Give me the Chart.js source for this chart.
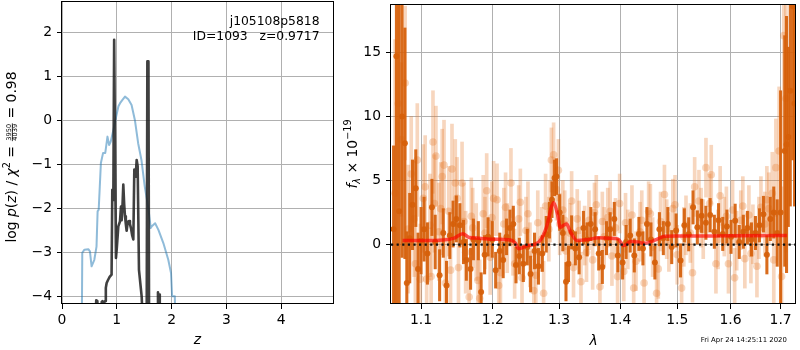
<!DOCTYPE html>
<html>
<head>
<meta charset="utf-8">
<script src="https://cdn.jsdelivr.net/npm/chart.js@4.4.0/dist/chart.umd.min.js"></script>
<style>
html,body{margin:0;padding:0;background:#fff;}
#wrap{position:relative;width:800px;height:350px;}
canvas{position:absolute;left:0;top:0;}
</style>
</head>
<body>
<div id="wrap">
<canvas id="cL" width="800" height="350"></canvas>
<canvas id="cR" width="800" height="350"></canvas>
</div>
<script>
// ---------- Left panel data: log p(z) ----------
const zTicks = [0, 1, 2, 3, 4];
const zTickLabels = ['0', '1', '2', '3', '4'];
const logpTicks = [-4, -3, -2, -1, 0, 1, 2];
const logpTickLabels = ['\u22124', '\u22123', '\u22122', '\u22121', '0', '1', '2'];

const zDark = [0.60,0.625,0.645,0.665,0.715,0.725,0.74,0.76,0.785,0.80,0.815,0.84,0.87,0.905,0.918,0.937,0.952,0.962,0.985,1.0,1.028,1.058,1.077,1.089,1.105,1.119,1.135,1.15,1.165,1.18,1.20,1.223,1.24,1.259,1.28,1.302,1.32,1.335,1.345,1.363,1.381,1.405,1.454,1.49,1.545,1.558,1.578,1.59,1.74,1.752,1.762,1.775,1.785,1.80];
const logpDark = [-5,-4.08,-4.1,-5,-5,-4.12,-4.1,-4.15,-4.1,-3.8,-3.69,-3.62,-3.55,-3.5,-1.57,-1.8,1.84,1.84,-3.12,-2.9,-2.4,-2.29,-1.95,-2.26,-1.9,-1.45,-1.9,-2.17,-2.35,-2.5,-2.3,-2.28,-2.35,-2.44,-2.6,-2.7,-1.11,-1.2,-1.27,-0.89,-1.03,-3.39,-3.99,-5,-5,1.35,1.35,-5,-5,-3.9,-4.3,-3.95,-4.3,-5];

const zBlue = [0.36,0.37,0.41,0.48,0.51,0.54,0.59,0.63,0.65,0.67,0.71,0.75,0.79,0.83,0.86,0.89,0.94,0.99,1.03,1.06,1.10,1.15,1.21,1.27,1.33,1.39,1.45,1.51,1.58,1.62,1.64,1.70,1.76,1.85,1.94,1.99,2.01,2.06,2.07];
const logpBlue = [-5,-3.0,-2.93,-2.92,-2.97,-3.31,-3.16,-2.86,-2.06,-2.02,-0.96,-0.73,-0.73,-0.36,-0.55,-0.47,-0.2,0.1,0.33,0.40,0.47,0.55,0.49,0.36,0.02,-0.51,-0.89,-1.49,-2.02,-2.44,-2.40,-2.33,-2.48,-2.78,-3.16,-3.46,-3.99,-3.99,-5];

// ---------- Right panel data: spectrum ----------
const lamTicks = [1.1, 1.2, 1.3, 1.4, 1.5, 1.6, 1.7];
const lamTickLabels = ['1.1', '1.2', '1.3', '1.4', '1.5', '1.6', '1.7'];
const fluxTicks = [0, 5, 10, 15];
const fluxTickLabels = ['0', '5', '10', '15'];

const darkLam = [1.0640,1.0677,1.0712,1.0750,1.0787,1.0812,1.0850,1.0887,1.0930,1.0960,1.1000,1.1040,1.1085,1.1146,1.1190,1.1250,1.1300,1.1345,1.1390,1.1435,1.1480,1.1530,1.1580,1.1620,1.1680,1.1720,1.1790,1.1830,1.1880,1.1930,1.1990,1.2040,1.2100,1.2150,1.2200,1.2250,1.2300,1.2340,1.2390,1.2450,1.2510,1.2560,1.2620,1.2680,1.2740,1.2800,1.2850,1.2890,1.2930,1.2960,1.3010,1.3060,1.3110,1.3150,1.3200,1.3260,1.3320,1.3390,1.3450,1.3510,1.3580,1.3640,1.3700,1.3770,1.3830,1.3900,1.3960,1.4040,1.4100,1.4170,1.4240,1.4320,1.4390,1.4460,1.4530,1.4600,1.4680,1.4750,1.4830,1.4900,1.4980,1.5060,1.5130,1.5210,1.5290,1.5370,1.5450,1.5530,1.5610,1.5690,1.5770,1.5850,1.5930,1.6010,1.6090,1.6170,1.6250,1.6330,1.6410,1.6490,1.6570,1.6650,1.6720,1.6790,1.6860,1.6930,1.7000,1.7086,1.7123,1.7160,1.7200,1.7253,1.7290];
const darkFlux = [1.2,14.7,2.6,10.0,7.9,-3.0,0.5,3.1,4.4,-1.9,0.3,1.2,-0.7,2.9,0.2,-2.4,0.9,-3.2,0.7,1.6,2.0,1.5,0.2,-1.2,-1.9,0.4,0.3,-3.7,-0.8,0.6,0.4,-2.0,-0.5,-1.2,0.6,1.3,1.6,-1.6,-0.9,-1.5,-0.2,-2.3,-0.5,-1.7,-0.7,0.8,1.9,3.5,5.2,5.3,2.5,0.9,-2.9,-1.5,0.95,-0.3,-1.0,1.3,0.4,1.6,1.2,-0.7,-1.75,0.5,1.2,2.0,-0.85,-1.4,0.2,0.7,-0.85,0.83,-0.3,1.6,0.4,-1.4,1.2,0.5,1.6,-0.2,1.1,-1.24,1.5,0.8,2.9,1.34,2.24,1.7,2.3,1.0,1.9,0.83,1.4,0.6,1.86,0.2,1.0,1.3,0.4,0.9,1.5,2.37,-0.8,2.0,2.5,0.9,2.5,7.3,7.8,8.4,12.0,18.6,11.0];
const darkErr = [6.5,20,17,11,9,4,3.5,3.5,3,2.8,2.6,2.5,2.4,2.2,2.1,2.0,1.9,1.9,1.8,1.8,1.8,1.7,1.7,1.6,1.6,1.6,1.5,1.5,1.5,1.5,1.4,1.4,1.4,1.4,1.4,1.4,1.4,1.4,1.4,1.4,1.4,1.4,1.4,1.4,1.4,1.4,1.4,1.4,1.4,1.4,1.4,1.4,1.5,1.4,1.3,1.3,1.3,1.3,1.3,1.3,1.3,1.3,1.3,1.3,1.3,1.3,1.3,1.3,1.3,1.3,1.3,1.3,1.3,1.3,1.3,1.3,1.3,1.3,1.3,1.3,1.3,1.3,1.3,1.3,1.3,1.3,1.3,1.3,1.3,1.3,1.3,1.3,1.3,1.3,1.3,1.3,1.3,1.3,1.3,1.3,1.3,1.4,1.5,1.7,2.0,2.6,9.5,9,10,7,9,12,8];

const lightLam = [1.0660,1.0700,1.0740,1.0790,1.0830,1.0870,1.0910,1.0950,1.0990,1.1030,1.1075,1.1120,1.1160,1.1200,1.1240,1.1285,1.1330,1.1375,1.1420,1.1465,1.1510,1.1560,1.1610,1.1660,1.1710,1.1760,1.1810,1.1860,1.1910,1.1960,1.2010,1.2060,1.2110,1.2160,1.2210,1.2265,1.2320,1.2380,1.2430,1.2490,1.2550,1.2610,1.2670,1.2730,1.2790,1.2840,1.2880,1.2915,1.2960,1.3010,1.3060,1.3110,1.3170,1.3230,1.3290,1.3350,1.3410,1.3480,1.3540,1.3600,1.3660,1.3730,1.3790,1.3860,1.3920,1.3990,1.4060,1.4130,1.4200,1.4270,1.4340,1.4410,1.4490,1.4560,1.4630,1.4700,1.4770,1.4850,1.4920,1.5000,1.5080,1.5160,1.5240,1.5320,1.5400,1.5480,1.5531,1.5631,1.5720,1.5800,1.5880,1.5960,1.6040,1.6120,1.6200,1.6280,1.6360,1.6440,1.6520,1.6600,1.6680,1.6760,1.6830,1.6903,1.6970,1.7020,1.7066,1.7110];
const lightFlux = [4.0,11.0,8.2,12.6,1.2,5.5,2.0,6.6,-2.7,3.6,-2.7,1.5,8.0,6.9,1.0,5.3,-3.0,2.6,5.9,4.8,-1.8,4.8,-0.6,-4.1,1.3,0.2,-4.2,2.4,4.2,-1.0,3.6,3.5,-2.2,1.6,0.5,4.8,-1.5,2.0,-2.6,1.1,-0.8,-3.6,1.7,0.4,3.0,1.2,6.6,7.0,4.3,1.6,2.7,-0.5,0.9,-1.8,2.0,-2.9,0.7,1.9,-1.2,3.1,-3.3,0.6,2.1,-0.9,1.3,3.2,-2.1,0.4,2.3,-1.3,1.0,-3.0,2.6,-0.2,-3.8,1.8,3.9,0.2,2.8,-0.8,-3.4,1.5,0.9,4.5,3.4,1.2,6.0,5.45,-1.5,3.8,1.4,-1.5,2.7,0.3,1.9,-1.1,2.3,0.8,-1.7,2.9,1.6,2.8,4.0,6.0,7.3,-2.5,16.3,11.4];
const lightErr = [12,8,6,6,5,4.5,4.5,4.4,4.3,4.2,4.1,4.0,4.0,3.9,3.8,3.7,3.6,3.5,3.5,3.4,3.3,3.2,3.2,3.1,3.1,3.0,3.0,3.0,2.9,2.9,2.9,2.8,2.8,2.8,2.7,2.7,2.7,2.6,2.6,2.6,2.5,2.5,2.5,2.5,2.5,2.5,2.5,2.5,2.4,2.4,2.3,2.3,2.3,2.3,2.3,2.3,2.3,2.3,2.3,2.3,2.3,2.3,2.3,2.3,2.3,2.3,2.3,2.3,2.3,2.3,2.3,2.3,2.3,2.3,2.3,2.3,2.3,2.3,2.3,2.3,2.3,2.3,2.3,2.3,2.4,2.3,2.3,2.3,2.3,2.3,2.3,2.3,2.3,2.3,2.3,2.3,2.3,2.3,2.4,2.4,2.5,2.8,3.2,3.8,5,7,9,12];

const light2Lam = [1.0925,1.1055,1.1135,1.1180,1.1265,1.1310,1.1400,1.1490,1.1585,1.1690,1.1785,1.1885,1.1985,1.2085,1.2185,1.2295,1.2405,1.2520,1.2640,1.2760,1.2860,1.2990,1.3090,1.3200,1.3320,1.3440,1.3570,1.3700,1.3830,1.3955,1.4090,1.4230,1.4370,1.4520,1.4660,1.4810,1.4960,1.5120,1.5280,1.5440,1.5600,1.5760,1.5920,1.6080,1.6240,1.6400,1.6560,1.6720,1.6860];
const light2Flux = [-1.5,4.5,-2.5,3.2,2.8,6.2,-2.0,3.6,1.8,2.2,-2.8,0.9,2.1,-3.2,2.9,0.2,3.3,2.4,-2.4,-3.8,2.6,5.8,1.9,3.4,1.1,-0.6,2.5,1.8,2.6,-2.5,1.7,-3.4,1.9,2.4,-1.9,1.2,3.1,0.6,-2.2,2.1,3.2,0.4,2.2,-2.6,3.0,-0.7,1.3,3.5,-1.2];
const light2Err = [4.5,4,3.8,3.8,3.6,3.5,3.4,3.2,3.0,3.0,3.0,2.8,2.8,2.7,2.7,2.6,2.6,2.5,2.5,2.5,2.4,2.4,2.3,2.3,2.3,2.3,2.3,2.3,2.3,2.3,2.3,2.3,2.3,2.3,2.3,2.3,2.3,2.3,2.3,2.3,2.3,2.3,2.3,2.3,2.3,2.3,2.4,2.6,3.5];

const modelLam = [1.0757,1.10,1.13,1.145,1.157,1.166,1.18,1.20,1.226,1.233,1.238,1.25,1.264,1.272,1.28,1.2917,1.297,1.302,1.307,1.312,1.318,1.3285,1.345,1.3636,1.38,1.396,1.406,1.418,1.43,1.441,1.455,1.465,1.477,1.50,1.60,1.713];
const modelFlux = [0.31,0.31,0.35,0.5,0.85,0.55,0.5,0.41,0.36,0.1,-0.33,-0.1,0.05,0.4,1.3,3.27,2.5,1.34,1.5,1.6,1.0,0.31,0.38,0.52,0.5,0.44,-0.08,0.23,0.2,0.1,0.25,0.44,0.64,0.66,0.68,0.7];

const zeroLam = [1.0607, 1.732];
const zeroFlux = [0, 0];

// ---------- helpers ----------
const FAM = '"DejaVu Sans"';
const F = '13.9px ' + FAM;
const FI = 'italic 13.9px ' + FAM;

function drawRich(ctx, x, y, parts, rot) {
  ctx.save();
  ctx.translate(x, y);
  if (rot) ctx.rotate(-Math.PI / 2);
  ctx.fillStyle = '#000';
  ctx.textBaseline = 'alphabetic';
  ctx.textAlign = 'left';
  let total = 0;
  parts.forEach(p => {
    ctx.font = p.f;
    p.w = p.frac ? Math.max(ctx.measureText(p.frac[0]).width, ctx.measureText(p.frac[1]).width) + 2
                 : ctx.measureText(p.t).width;
    total += p.w;
  });
  let cx = -total / 2;
  parts.forEach(p => {
    ctx.font = p.f;
    if (p.frac) {
      const w0 = ctx.measureText(p.frac[0]).width, w1 = ctx.measureText(p.frac[1]).width;
      ctx.fillText(p.frac[0], cx + (p.w - w0) / 2, p.dy[0]);
      ctx.fillText(p.frac[1], cx + (p.w - w1) / 2, p.dy[1]);
      ctx.fillRect(cx + 0.5, p.bar, p.w - 1, 0.8);
    } else {
      ctx.fillText(p.t, cx, p.dy || 0);
    }
    cx += p.w;
  });
  ctx.restore();
}

const framePlugin = {
  id: 'frame',
  afterDatasetsDraw(chart) {
    const { ctx, chartArea: a } = chart;
    ctx.save();
    ctx.strokeStyle = '#000';
    ctx.lineWidth = 1;
    ctx.strokeRect(Math.round(a.left) - 0.5, Math.round(a.top) + 0.5,
                   Math.round(a.right) - Math.round(a.left), Math.round(a.bottom) - Math.round(a.top) - 1);
    ctx.restore();
  }
};

function noPad(s) { s.paddingTop = 0; s.paddingBottom = 0; s.paddingLeft = 0; s.paddingRight = 0; }

function xAxis(type, min, max, ticks, labels) {
  return {
    type, min, max, bounds: 'data', offset: false,
    afterFit: s => { s.height = 46; noPad(s); },
    afterBuildTicks: s => { s.ticks = ticks.map(v => ({ value: v })); },
    ticks: { callback: (v, i) => labels[i], color: '#000', font: { family: 'DejaVu Sans', size: 13.9 }, padding: 3, autoSkip: false, maxRotation: 0, minRotation: 0 },
    grid: { color: '#b0b0b0', lineWidth: 1, tickColor: '#000', tickLength: 5, tickWidth: 1, offset: false },
    border: { display: false }
  };
}
function yAxis(min, max, ticks, labels, width) {
  return {
    type: 'linear', min, max, bounds: 'data', stacked: false,
    afterFit: s => { s.width = width; noPad(s); },
    afterBuildTicks: s => { s.ticks = ticks.map(v => ({ value: v })); },
    ticks: { callback: (v, i) => labels[i], color: '#000', font: { family: 'DejaVu Sans', size: 13.9 }, padding: 5, autoSkip: false },
    grid: { color: '#b0b0b0', lineWidth: 1, tickColor: '#000', tickLength: 5, tickWidth: 1 },
    border: { display: false }
  };
}

// ---------- Left chart ----------
const leftText = {
  id: 'leftText',
  afterDraw(chart) {
    const ctx = chart.ctx;
    drawRich(ctx, 15.5, 157, [
      { t: 'log ', f: F }, { t: 'p', f: FI }, { t: '(', f: F }, { t: 'z', f: FI }, { t: ') / ', f: F },
      { t: '\u03c7', f: FI }, { t: '2', f: '9.7px ' + FAM, dy: -5.5 }, { t: ' = ', f: F },
      { frac: ['3950', '4039'], f: '6.6px ' + FAM, dy: [-4.4, 1.8], bar: -3.6 },
      { t: ' = 0.98', f: F }
    ], true);
    drawRich(ctx, 197.3, 343.5, [{ t: 'z', f: FI }], false);
    ctx.save();
    ctx.fillStyle = '#000';
    ctx.font = '12.35px ' + FAM;
    ctx.textAlign = 'right';
    ctx.textBaseline = 'alphabetic';
    ctx.fillText('j105108p5818', 319.5, 25);
    ctx.fillText('ID=1093   z=0.9717', 319.5, 39.5);
    ctx.restore();
  }
};

new Chart(document.getElementById('cL'), {
  type: 'line',
  data: {
    datasets: [
      { data: zDark.map((z, i) => ({ x: z, y: logpDark[i] })), borderColor: 'rgba(30,30,30,0.85)', borderWidth: 2.6,
        pointRadius: 0, tension: 0, borderJoinStyle: 'round', clip: 0, fill: false },
      { data: zBlue.map((z, i) => ({ x: z, y: logpBlue[i] })), borderColor: 'rgba(31,119,180,0.5)', borderWidth: 2,
        pointRadius: 0, tension: 0, borderJoinStyle: 'round', clip: 0, fill: false }
    ]
  },
  options: {
    responsive: false, animation: false, events: [], devicePixelRatio: 1,
    layout: { padding: { left: 0, top: 1, right: 466, bottom: 0 } },
    plugins: { legend: { display: false }, tooltip: { enabled: false } },
    scales: {
      x: xAxis('linear', 0, 4.965, zTicks, zTickLabels),
      y: yAxis(-4.166, 2.724, logpTicks, logpTickLabels, 62)
    }
  },
  plugins: [framePlugin, leftText]
});

// ---------- Right chart ----------
const DARK = 'rgba(214,96,10,0.92)';
const LIGHT = 'rgba(230,120,40,0.3)';

const rightText = {
  id: 'rightText',
  afterDraw(chart) {
    const ctx = chart.ctx;
    drawRich(ctx, 356.5, 154, [
      { t: 'f', f: FI }, { t: '\u03bb', f: 'italic 9.7px ' + FAM, dy: 3 },
      { t: ' \u00d7 10', f: F }, { t: '\u221219', f: '9.7px ' + FAM, dy: -5.5 }
    ], true);
    drawRich(ctx, 593.5, 345, [{ t: '\u03bb', f: FI }], false);
    ctx.save();
    ctx.fillStyle = '#000';
    ctx.font = '6.9px ' + FAM;
    ctx.textAlign = 'left';
    ctx.textBaseline = 'alphabetic';
    ctx.fillText('Fri Apr 24 14:25:11 2020', 700.7, 342);
    ctx.restore();
  }
};

function pts(lam, flux) { return lam.map((l, i) => ({ x: l, y: flux[i] })); }
function bars(lam, flux, err) { return lam.map((l, i) => ({ x: l, y: [flux[i] - err[i], flux[i] + err[i]] })); }

new Chart(document.getElementById('cR'), {
  type: 'scatter',
  data: {
    datasets: [
      { type: 'line', data: pts(zeroLam, zeroFlux), borderColor: '#111', borderWidth: 2.2,
        borderDash: [2.2, 3.4], pointRadius: 0, clip: 0, fill: false },
      { type: 'line', data: pts(modelLam, modelFlux), borderColor: 'rgba(255,0,0,0.65)', borderWidth: 3.5,
        pointRadius: 0, tension: 0.3, cubicInterpolationMode: 'monotone', borderJoinStyle: 'round', clip: 0, fill: false },
      { type: 'scatter', data: pts(darkLam, darkFlux), pointRadius: 3, pointBackgroundColor: DARK,
        pointBorderWidth: 0, showLine: false, clip: 0 },
      { type: 'bar', data: bars(darkLam, darkFlux, darkErr),
        backgroundColor: DARK, borderWidth: 0, barThickness: 2.4, stack: 'err', grouped: true, clip: 0 },
      { type: 'scatter', data: pts(lightLam, lightFlux), pointRadius: 3.8, pointBackgroundColor: LIGHT,
        pointBorderWidth: 0, showLine: false, clip: 0 },
      { type: 'bar', data: bars(lightLam, lightFlux, lightErr),
        backgroundColor: LIGHT, borderWidth: 0, barThickness: 3, stack: 'err', grouped: true, clip: 0 },
      { type: 'scatter', data: pts(light2Lam, light2Flux), pointRadius: 3.8, pointBackgroundColor: LIGHT,
        pointBorderWidth: 0, showLine: false, clip: 0 },
      { type: 'bar', data: bars(light2Lam, light2Flux, light2Err),
        backgroundColor: LIGHT, borderWidth: 0, barThickness: 3, stack: 'err', grouped: true, clip: 0 }
    ]
  },
  options: {
    responsive: false, animation: false, events: [], devicePixelRatio: 1,
    layout: { padding: { left: 0, top: 1, right: 1, bottom: 0 } },
    plugins: { legend: { display: false }, tooltip: { enabled: false } },
    scales: {
      x: xAxis('logarithmic', 1.0607, 1.732, lamTicks, lamTickLabels),
      y: yAxis(-4.64, 18.77, fluxTicks, fluxTickLabels, 391)
    }
  },
  plugins: [framePlugin, rightText]
});
</script>
</body>
</html>
